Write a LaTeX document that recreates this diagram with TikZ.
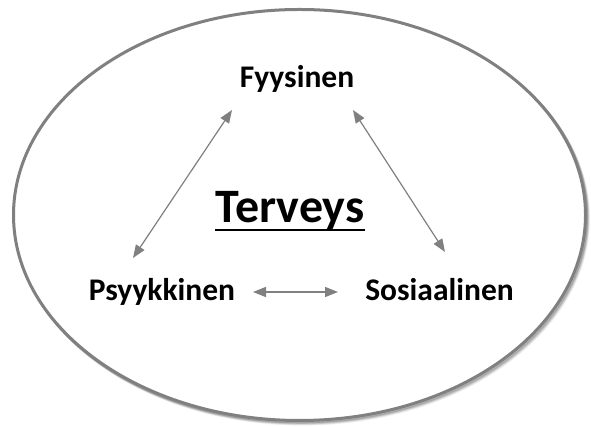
\documentclass[tikz,border=0pt]{standalone}
\usepackage{fontspec}
\setmainfont{Carlito}
\usetikzlibrary{arrows.meta}
\definecolor{rimgray}{RGB}{128,128,128}
\definecolor{arrgray}{RGB}{128,128,128}
\tikzset{
  x=1pt, y=1pt,
  lbl/.style={anchor=base, inner sep=0pt, font=\fontsize{31.5}{36}\selectfont\bfseries},
  title/.style={anchor=base, inner sep=0pt, font=\fontsize{48}{56}\selectfont\bfseries},
  arr/.style={draw=arrgray, line width=1.2pt, {Triangle[length=13pt,width=10pt]}-{Triangle[length=13pt,width=10pt]}},
  rim/.style={draw=rimgray, line width=3pt},
  uline/.style={draw=black, line width=2.6pt}
}
\begin{document}
\begin{tikzpicture}
\useasboundingbox (0,0) rectangle (591,427);
% soft shadow
\foreach \d/\o in {6/0.05,5/0.07,4/0.09,3/0.11,2/0.13}{
  \draw[black, opacity=\o, line width=3pt] (299.5+\d*0.5,212-\d*0.6) ellipse [x radius=286, y radius=205.5];
}
\draw[rim, fill=white] (299.5,212) ellipse [x radius=286, y radius=205.5];
\node[lbl] (fyy) at (297,339) {Fyysinen};
\node[title] (ter) at (290,204) {Terveys};
\draw[uline] ([yshift=-7pt]ter.base west) -- ([yshift=-7pt]ter.base east);
\node[lbl] (psy) at (162,126) {Psyykkinen};
\node[lbl] (sos) at (439.5,126) {Sosiaalinen};
\coordinate (a1) at (133,169);
\coordinate (a2) at (232,317);
\coordinate (b1) at (353,317);
\coordinate (b2) at (445,175);
\coordinate (c1) at (253,135);
\coordinate (c2) at (338,135);
\draw[arr] (a1) -- (a2);
\draw[arr] (b1) -- (b2);
\draw[arr] (c1) -- (c2);
\end{tikzpicture}
\end{document}
